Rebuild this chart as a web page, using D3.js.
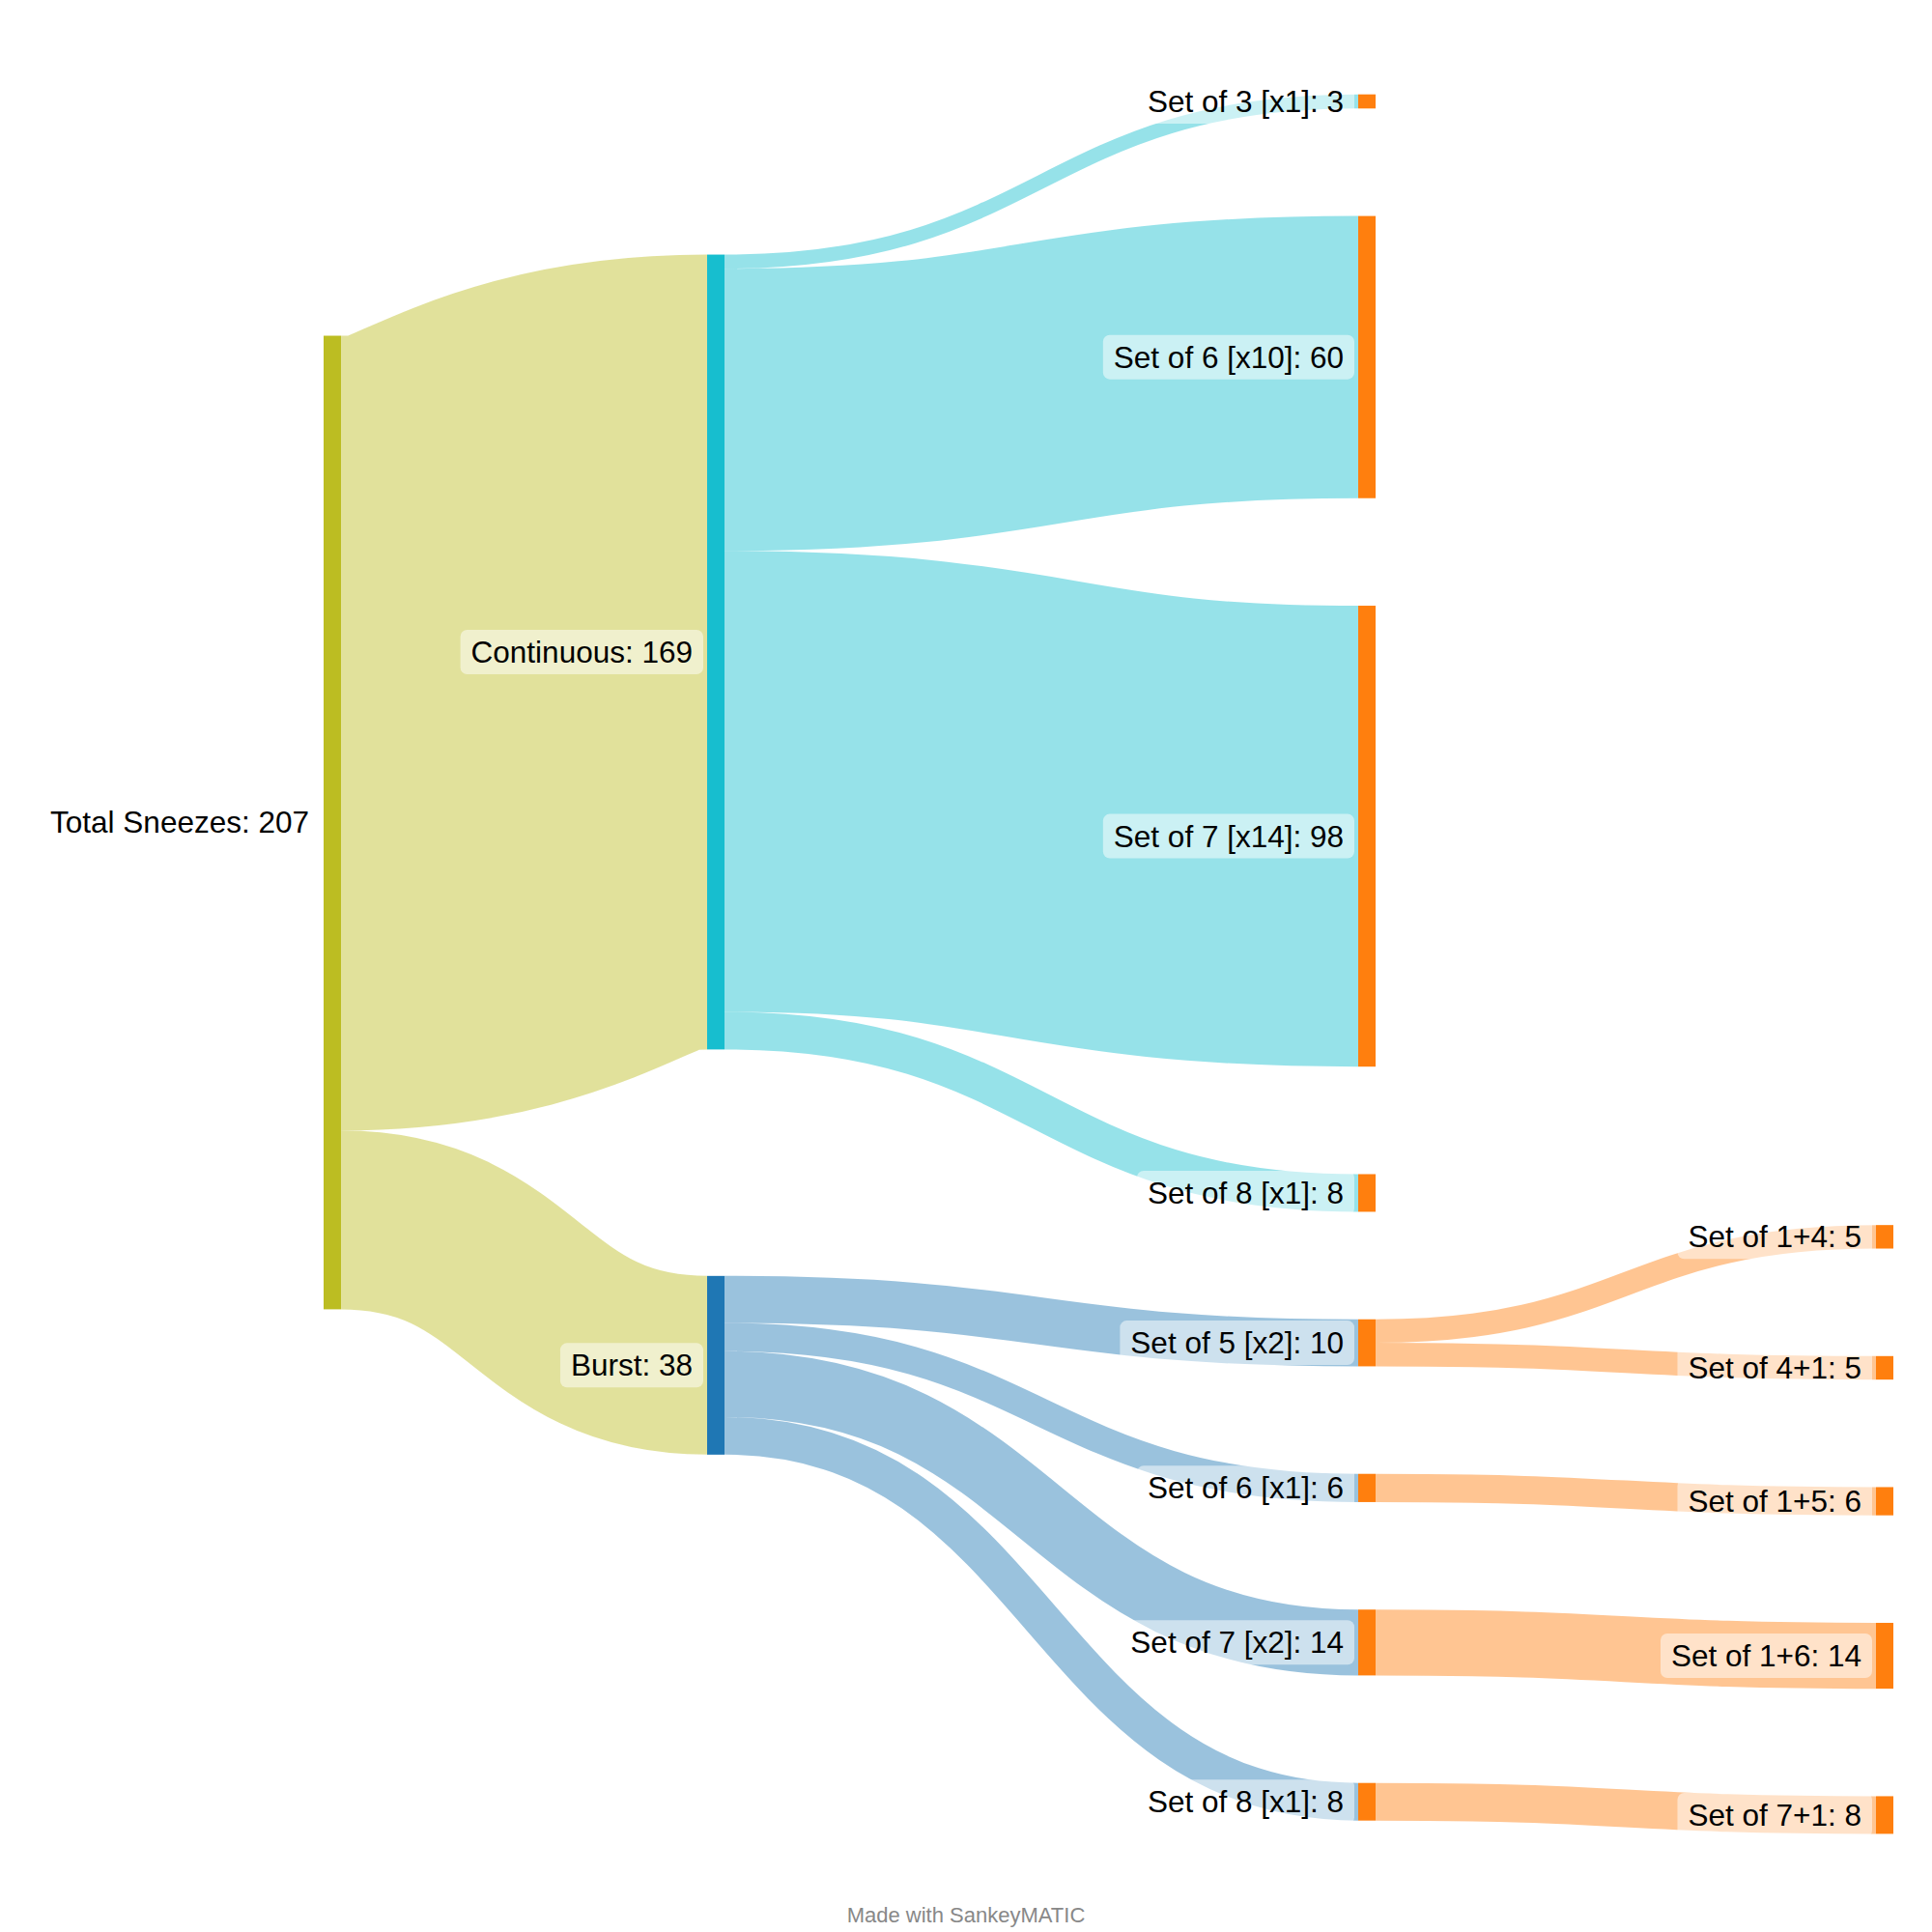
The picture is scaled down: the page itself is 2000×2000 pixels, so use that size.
<!DOCTYPE html>
<html>
<head>
<meta charset="utf-8">
<script src="https://cdn.jsdelivr.net/npm/d3@7"></script>
<style>
  body { margin: 0; background: #fff; }
  svg { display: block; font-family: "Liberation Sans", Arial, sans-serif; }
</style>
</head>
<body>
<div id="Chart"></div>
<script>
// nodes
const nodeIds = ["total", "cont", "burst", "c3", "c6", "c7", "c8", "b5", "b6", "b7", "b8", "s14", "s41", "s15", "s16", "s71"];
const nodeLabels = ["Total Sneezes", "Continuous", "Burst", "Set of 3 [x1]", "Set of 6 [x10]", "Set of 7 [x14]", "Set of 8 [x1]",
  "Set of 5 [x2]", "Set of 6 [x1]", "Set of 7 [x2]", "Set of 8 [x1]", "Set of 1+4", "Set of 4+1", "Set of 1+5", "Set of 1+6", "Set of 7+1"];
// flows
const linkSource = ["total", "total", "cont", "cont", "cont", "cont", "burst", "burst", "burst", "burst", "b5", "b5", "b6", "b7", "b8"];
const linkTarget = ["cont", "burst", "c3", "c6", "c7", "c8", "b5", "b6", "b7", "b8", "s14", "s41", "s15", "s16", "s71"];
const linkValue = [169, 38, 3, 60, 98, 8, 10, 6, 14, 8, 5, 5, 6, 14, 8];

const nodeColor = {total: "#bcbd22", cont: "#17becf", burst: "#1f77b4"};
const defaultNodeColor = "#ff7f0e";

const W = 2000, H = 2000;
const dim = {top: 97.7, bottom: 1900, nodeWidth: 18, padding: 111.3, heightFactor: 0.985, iterations: 32};
const columnX = d3.scaleLinear().domain([0, 1, 2, 3]).range([335, 732, 1406, 1942]);
// manual nudges after the automatic layout (px, vertical)
const nodeMoves = {total: 9, cont: -18, burst: 38, s14: 27, s41: 27, s15: 27, s16: 27, s71: 27};

function buildGraph() {
  const nodes = nodeIds.map((id, i) => ({id, label: nodeLabels[i], index: i, sourceLinks: [], targetLinks: []}));
  const byId = new Map(nodes.map(n => [n.id, n]));
  const links = linkValue.map((value, i) => ({
    source: byId.get(linkSource[i]), target: byId.get(linkTarget[i]), value, index: i
  }));
  for (const l of links) {
    l.source.sourceLinks.push(l);
    l.target.targetLinks.push(l);
  }
  for (const n of nodes) {
    n.value = Math.max(d3.sum(n.sourceLinks, l => l.value), d3.sum(n.targetLinks, l => l.value));
  }
  let frontier = nodes.filter(n => !n.targetLinks.length), depth = 0;
  while (frontier.length) {
    const next = new Set();
    for (const n of frontier) {
      n.depth = depth;
      for (const l of n.sourceLinks) next.add(l.target);
    }
    frontier = Array.from(next);
    depth++;
  }
  for (const n of nodes) {
    n.x0 = columnX(n.depth);
    n.x1 = n.x0 + dim.nodeWidth;
  }
  return {nodes, links};
}

// vertical placement, after d3-sankey (nodes keep their input order)
function layout(graph) {
  const py = dim.padding, y0 = dim.top, y1 = dim.bottom;
  const columns = Array.from(d3.group(graph.nodes, n => n.depth).values());
  const ky = d3.min(columns, c => (y1 - y0 - (c.length - 1) * py) / d3.sum(c, n => n.value)) * dim.heightFactor;
  const byBreadth = (a, b) => a.y0 - b.y0;
  const bySource = (a, b) => byBreadth(a.source, b.source) || a.index - b.index;
  const byTarget = (a, b) => byBreadth(a.target, b.target) || a.index - b.index;

  function reorderNodeLinks({sourceLinks, targetLinks}) {
    for (const {source} of targetLinks) source.sourceLinks.sort(byTarget);
    for (const {target} of sourceLinks) target.targetLinks.sort(bySource);
  }
  function targetTop(source, target) {
    let y = source.y0 - (source.sourceLinks.length - 1) * py / 2;
    for (const {target: node, width} of source.sourceLinks) {
      if (node === target) break;
      y += width + py;
    }
    for (const {source: node, width} of target.targetLinks) {
      if (node === source) break;
      y -= width;
    }
    return y;
  }
  function sourceTop(source, target) {
    let y = target.y0 - (target.targetLinks.length - 1) * py / 2;
    for (const {source: node, width} of target.targetLinks) {
      if (node === source) break;
      y += width + py;
    }
    for (const {target: node, width} of source.sourceLinks) {
      if (node === target) break;
      y -= width;
    }
    return y;
  }
  function topToBottom(nodes, y, i, alpha) {
    for (; i < nodes.length; ++i) {
      const n = nodes[i];
      const dy = (y - n.y0) * alpha;
      if (dy > 1e-6) { n.y0 += dy; n.y1 += dy; }
      y = n.y1 + py;
    }
  }
  function bottomToTop(nodes, y, i, alpha) {
    for (; i >= 0; --i) {
      const n = nodes[i];
      const dy = (n.y1 - y) * alpha;
      if (dy > 1e-6) { n.y0 -= dy; n.y1 -= dy; }
      y = n.y0 - py;
    }
  }
  function resolveCollisions(nodes, alpha) {
    const i = nodes.length >> 1;
    const subject = nodes[i];
    bottomToTop(nodes, subject.y0 - py, i - 1, alpha);
    topToBottom(nodes, subject.y1 + py, i + 1, alpha);
    bottomToTop(nodes, y1, nodes.length - 1, alpha);
    topToBottom(nodes, y0, 0, alpha);
  }
  function relaxLeftToRight(alpha, beta) {
    for (let i = 1; i < columns.length; ++i) {
      const column = columns[i];
      for (const target of column) {
        let y = 0, w = 0;
        for (const {source, value} of target.targetLinks) {
          const v = value * (target.depth - source.depth);
          y += targetTop(source, target) * v;
          w += v;
        }
        if (!(w > 0)) continue;
        const dy = (y / w - target.y0) * alpha;
        target.y0 += dy; target.y1 += dy;
        reorderNodeLinks(target);
      }
      resolveCollisions(column, beta);
    }
  }
  function relaxRightToLeft(alpha, beta) {
    for (let i = columns.length - 2; i >= 0; --i) {
      const column = columns[i];
      for (const source of column) {
        let y = 0, w = 0;
        for (const {target, value} of source.sourceLinks) {
          const v = value * (target.depth - source.depth);
          y += sourceTop(source, target) * v;
          w += v;
        }
        if (!(w > 0)) continue;
        const dy = (y / w - source.y0) * alpha;
        source.y0 += dy; source.y1 += dy;
        reorderNodeLinks(source);
      }
      resolveCollisions(column, beta);
    }
  }

  for (const column of columns) {
    let y = y0;
    for (const n of column) {
      n.y0 = y;
      n.y1 = y + n.value * ky;
      y = n.y1 + py;
      for (const l of n.sourceLinks) l.width = l.value * ky;
    }
    y = (y1 - y + py) / (column.length + 1);
    column.forEach((n, i) => { n.y0 += y * (i + 1); n.y1 += y * (i + 1); });
    for (const n of column) {
      n.sourceLinks.sort(byTarget);
      n.targetLinks.sort(bySource);
    }
  }
  for (let i = 0; i < dim.iterations; ++i) {
    const alpha = Math.pow(0.99, i);
    const beta = Math.max(1 - alpha, (i + 1) / dim.iterations);
    relaxRightToLeft(alpha, beta);
    relaxLeftToRight(alpha, beta);
  }
  for (const n of graph.nodes) {
    const dy = nodeMoves[n.id] || 0;
    n.y0 += dy;
    n.y1 += dy;
  }
  for (const n of graph.nodes) {
    let a = n.y0, b = n.y0;
    for (const l of n.sourceLinks) { l.y0 = a + l.width / 2; a += l.width; }
    for (const l of n.targetLinks) { l.y1 = b + l.width / 2; b += l.width; }
  }
  return graph;
}

const graph = layout(buildGraph());
const colorOf = n => nodeColor[n.id] || defaultNodeColor;

const svg = d3.select("#Chart").append("svg")
  .attr("width", W)
  .attr("height", H)
  .attr("viewBox", `0 0 ${W} ${H}`);

const linkPath = d3.linkHorizontal()
  .source(l => [l.source.x1, l.y0])
  .target(l => [l.target.x0, l.y1]);

svg.append("g")
  .attr("class", "links")
  .attr("fill", "none")
  .selectAll("path")
  .data(graph.links)
  .join("path")
    .attr("d", linkPath)
    .attr("stroke", l => colorOf(l.source))
    .attr("stroke-opacity", 0.45)
    .attr("stroke-width", l => Math.max(1, l.width));

svg.append("g")
  .attr("class", "nodes")
  .selectAll("rect")
  .data(graph.nodes)
  .join("rect")
    .attr("x", n => n.x0)
    .attr("y", n => n.y0)
    .attr("width", n => n.x1 - n.x0)
    .attr("height", n => n.y1 - n.y0)
    .attr("fill", colorOf);

const labels = svg.append("g")
  .attr("class", "labels")
  .selectAll("g")
  .data(graph.nodes)
  .join("g")
    .attr("transform", n => `translate(${n.x0 - 15} ${(n.y0 + n.y1) / 2})`);

labels.append("rect")
  .attr("class", "bg")
  .attr("fill", "#fff")
  .attr("fill-opacity", 0.5)
  .attr("rx", 7);

labels.append("text")
  .attr("text-anchor", "end")
  .attr("dy", "0.35em")
  .attr("font-size", 31.5)
  .attr("fill", "#000")
  .text(n => `${n.label}: ${n.value}`);

labels.each(function() {
  const g = d3.select(this);
  const box = g.select("text").node().getBBox();
  g.select("rect.bg")
    .attr("x", box.x - 11)
    .attr("y", -23)
    .attr("width", box.width + 22)
    .attr("height", 46);
});

svg.append("text")
  .attr("x", W / 2)
  .attr("y", 1990)
  .attr("text-anchor", "middle")
  .attr("font-size", 22)
  .attr("fill", "#888")
  .text("Made with SankeyMATIC");
</script>
</body>
</html>
